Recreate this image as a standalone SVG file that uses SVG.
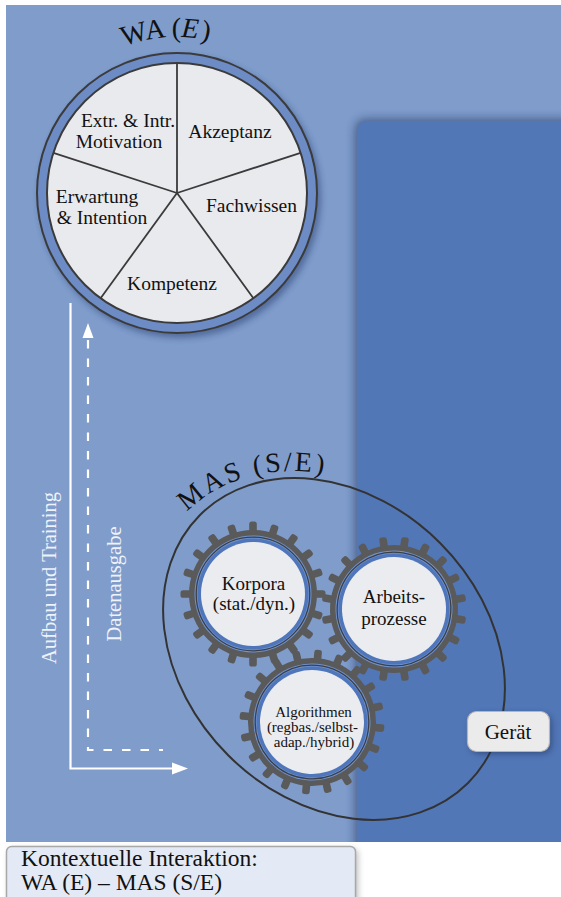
<svg xmlns="http://www.w3.org/2000/svg" xmlns:xlink="http://www.w3.org/1999/xlink" width="561" height="897" viewBox="0 0 561 897">
  <style>
    .serif { font-family: "Liberation Serif", "Times New Roman", serif; fill: #111; }
    .pie { font-size: 19.5px; text-anchor: middle; }
    .gtxt { font-size: 19px; text-anchor: middle; }
    .gsmall { font-size: 15px; text-anchor: middle; }
    .side { font-family: "Liberation Serif", "Times New Roman", serif; font-size: 20.5px; fill: #eef2fa; text-anchor: middle; }
    .title { font-size: 28px; }
    .spoke { stroke: #3b3b3b; stroke-width: 1.8; fill: none; }
    .arrow { stroke: #ffffff; stroke-width: 2.2; fill: none; }
  </style>
  <defs>
    <filter id="blur5" x="-20%" y="-20%" width="140%" height="140%">
      <feGaussianBlur stdDeviation="5"/>
    </filter>
    <filter id="blur3" x="-20%" y="-20%" width="140%" height="140%">
      <feGaussianBlur stdDeviation="3"/>
    </filter>
    <clipPath id="panelClip">
      <rect x="6" y="5" width="555" height="837"/>
    </clipPath>
    <!-- one cog wheel, centred on the origin -->
    <g id="gear">
      <g fill="#5a5a5a">
        <circle r="64"/>
        <rect x="-3.8" y="-72.5" width="7.6" height="12" rx="2.6" transform="rotate(0)"/>
        <rect x="-3.8" y="-72.5" width="7.6" height="12" rx="2.6" transform="rotate(18)"/>
        <rect x="-3.8" y="-72.5" width="7.6" height="12" rx="2.6" transform="rotate(36)"/>
        <rect x="-3.8" y="-72.5" width="7.6" height="12" rx="2.6" transform="rotate(54)"/>
        <rect x="-3.8" y="-72.5" width="7.6" height="12" rx="2.6" transform="rotate(72)"/>
        <rect x="-3.8" y="-72.5" width="7.6" height="12" rx="2.6" transform="rotate(90)"/>
        <rect x="-3.8" y="-72.5" width="7.6" height="12" rx="2.6" transform="rotate(108)"/>
        <rect x="-3.8" y="-72.5" width="7.6" height="12" rx="2.6" transform="rotate(126)"/>
        <rect x="-3.8" y="-72.5" width="7.6" height="12" rx="2.6" transform="rotate(144)"/>
        <rect x="-3.8" y="-72.5" width="7.6" height="12" rx="2.6" transform="rotate(162)"/>
        <rect x="-3.8" y="-72.5" width="7.6" height="12" rx="2.6" transform="rotate(180)"/>
        <rect x="-3.8" y="-72.5" width="7.6" height="12" rx="2.6" transform="rotate(198)"/>
        <rect x="-3.8" y="-72.5" width="7.6" height="12" rx="2.6" transform="rotate(216)"/>
        <rect x="-3.8" y="-72.5" width="7.6" height="12" rx="2.6" transform="rotate(234)"/>
        <rect x="-3.8" y="-72.5" width="7.6" height="12" rx="2.6" transform="rotate(252)"/>
        <rect x="-3.8" y="-72.5" width="7.6" height="12" rx="2.6" transform="rotate(270)"/>
        <rect x="-3.8" y="-72.5" width="7.6" height="12" rx="2.6" transform="rotate(288)"/>
        <rect x="-3.8" y="-72.5" width="7.6" height="12" rx="2.6" transform="rotate(306)"/>
        <rect x="-3.8" y="-72.5" width="7.6" height="12" rx="2.6" transform="rotate(324)"/>
        <rect x="-3.8" y="-72.5" width="7.6" height="12" rx="2.6" transform="rotate(342)"/>
      </g>
      <circle r="58.5" fill="#7093cf"/>
      <circle r="55.5" fill="#4f76ba"/>
      <circle r="56.8" fill="none" stroke="#3a3f48" stroke-width="1.3"/>
      <circle r="52" fill="#ebecf0"/>
    </g>
    <path id="titleArc" d="M 21,193 A 156 156 0 0 1 333,193"/>
    <path id="masArc" d="M 187,512 A 203 164 45 0 1 355,482"/>
  </defs>

  <!-- background panels -->
  <rect x="6" y="5" width="555" height="837" fill="#7f9ccb"/>
  <g clip-path="url(#panelClip)">
    <rect x="355" y="119" width="260" height="760" rx="10" fill="#1c2c52" opacity="0.55" filter="url(#blur5)"/>
    <rect x="357" y="121" width="260" height="760" rx="10" fill="#5277b7"/>
  </g>

  <!-- WA (E) pie -->
  <g id="wa">
    <circle cx="180" cy="197" r="141" fill="#1d3263" opacity="0.45" filter="url(#blur3)"/>
    <circle cx="177" cy="193" r="140" fill="#6d8cc6" stroke="#3b3b3b" stroke-width="2"/>
    <circle cx="177" cy="193" r="130" fill="#e9eaee" stroke="#3b3b3b" stroke-width="2"/>
    <path class="spoke" d="M177,193 V63 M177,193 L300.6,152.8 M177,193 L253.4,298.2 M177,193 L100.6,298.2 M177,193 L53.4,152.8"/>
    <text class="serif title"><textPath href="#titleArc" startOffset="234" text-anchor="middle">WA (<tspan font-style="italic">E</tspan><tspan dx="2">)</tspan></textPath></text>
    <text class="serif pie" x="128" y="127">Extr. &amp; Intr.</text>
    <text class="serif pie" x="119" y="148">Motivation</text>
    <text class="serif pie" x="230" y="138">Akzeptanz</text>
    <text class="serif pie" x="251.5" y="212">Fachwissen</text>
    <text class="serif pie" x="97" y="203">Erwartung</text>
    <text class="serif pie" x="102" y="224">&amp; Intention</text>
    <text class="serif pie" x="172" y="290">Kompetenz</text>
  </g>

  <!-- MAS (S/E) ellipse -->
  <g id="mas">
    <ellipse cx="334" cy="649" rx="189.5" ry="150" transform="rotate(45 334 649)" fill="none" stroke="#333" stroke-width="2"/>
    <text class="serif title" letter-spacing="2.5"><textPath href="#masArc" startOffset="0">MAS (S/E)</textPath></text>
  </g>

  <g id="korpora">
    <use href="#gear" transform="translate(253 594)"/>
    <text class="serif gtxt" x="253.5" y="590">Korpora</text>
    <text class="serif gtxt" x="254" y="610">(stat./dyn.)</text>
  </g>
  <g id="arbeitsprozesse">
    <use href="#gear" transform="translate(394 609) rotate(9)"/>
    <text class="serif gtxt" x="394" y="603">Arbeits-</text>
    <text class="serif gtxt" x="394" y="625">prozesse</text>
  </g>
  <g id="algorithmen">
    <use href="#gear" transform="translate(312 722) rotate(5)"/>
    <text class="serif gsmall" x="313.5" y="717">Algorithmen</text>
    <text class="serif gsmall" x="312.5" y="732">(regbas./selbst-</text>
    <text class="serif gsmall" x="314" y="747">adap./hybrid)</text>
  </g>

  <!-- device label -->
  <g id="geraet">
    <rect x="470" y="714" width="82" height="40" rx="9" fill="#1c2c52" opacity="0.5" filter="url(#blur3)"/>
    <rect x="467.5" y="711.5" width="82" height="40" rx="9" fill="#ebebeb" stroke="#b5b5b5" stroke-width="1.2"/>
    <text class="serif" x="508" y="739" font-size="21" text-anchor="middle">Gerät</text>
  </g>

  <!-- flows between WA and MAS -->
  <g id="connectors">
    <path class="arrow" d="M70.5,303 V768.5 H174"/>
    <polygon points="172,762.5 188,768.5 172,774.5" fill="#ffffff"/>
    <path class="arrow" d="M88,340 V750 H163" stroke-dasharray="8.5 10"/>
    <polygon points="82.5,338 88,323 93.5,338" fill="#ffffff"/>
    <text class="side" transform="translate(56 578) rotate(-90)">Aufbau und Training</text>
    <text class="side" transform="translate(121 584) rotate(-90)">Datenausgabe</text>
  </g>

  <!-- caption -->
  <g id="caption">
    <rect x="9" y="849" width="349" height="60" rx="5" fill="#7a7a7a" opacity="0.5" filter="url(#blur3)"/>
    <rect x="6.5" y="846.5" width="349" height="60" rx="5" fill="#e4eaf5" stroke="#a8a8a8" stroke-width="1.5"/>
    <text class="serif" x="21" y="866" font-size="23.5">Kontextuelle Interaktion:</text>
    <text class="serif" x="21" y="890" font-size="23.5">WA (E) – MAS (S/E)</text>
  </g>
</svg>
